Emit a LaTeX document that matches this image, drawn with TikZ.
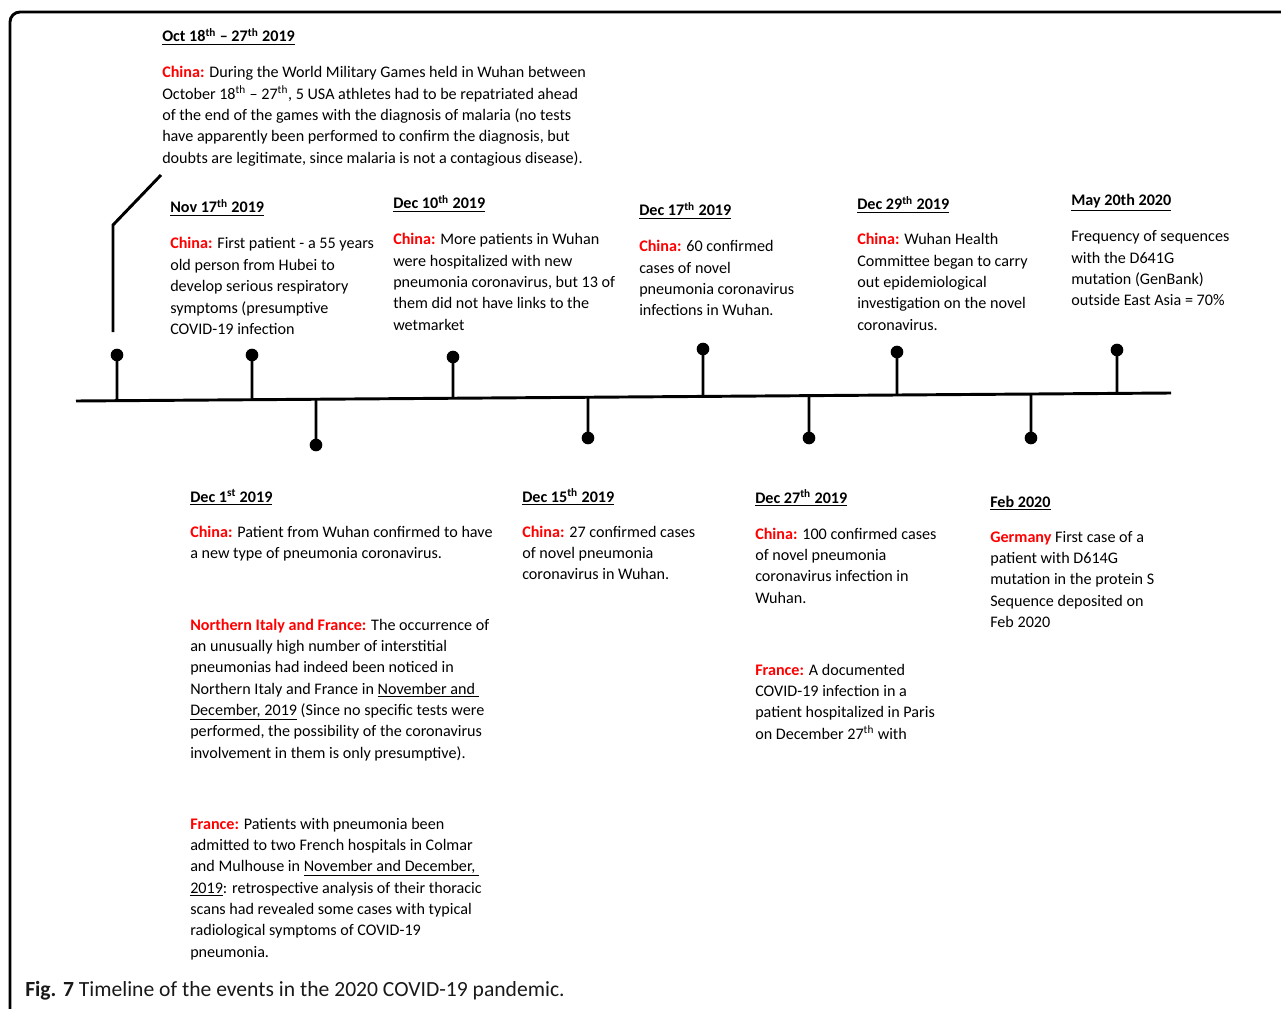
\documentclass[tikz,border=0pt]{standalone}
\usepackage{fontspec}
\setmainfont{Carlito}
\usetikzlibrary{calc}
\definecolor{tred}{RGB}{255,0,0}
\definecolor{ink}{RGB}{0,0,0}
\newcommand{\rd}[1]{\textcolor{tred}{\textbf{#1}}}
\newcommand{\hd}[1]{\underline{\textbf{#1}}}
\newcommand{\thsup}{\textsuperscript{th}}
\newcommand{\blk}[1]{\begin{tabular}[t]{@{}l@{}}#1\end{tabular}}
\begin{document}
\begin{tikzpicture}[x=0.75pt,y=-0.75pt,
  txt/.style={anchor=base west, inner sep=0pt, text=ink, font=\fontsize{12.1}{16}\selectfont},
  dot/.style={circle, fill=black, inner sep=0pt, minimum size=9.5pt},
  stem/.style={line width=2.2pt, black},
  axis/.style={line width=2.2pt, black},
  frame/.style={line width=2.2pt, black, rounded corners=7.5pt}]
\useasboundingbox (0,0) rectangle (1281,1009);
\clip (0,0) rectangle (1281,1009);
\fill[white] (0,0) rectangle (1281,1009);
% frame
\coordinate (f1) at (10,1020);
\coordinate (f2) at (10,12);
\coordinate (f3) at (1295,12);
\draw[frame] (f1) -- (f2) -- (f3);
% timeline
\coordinate (L) at (76,401);
\coordinate (R) at (1171,393);
\draw[axis] (L) -- (R);
% upper events
\foreach \n/\x/\y in {u1/117/355, u2/252/355, u3/453/357, u4/703/349, u5/897/352, u6/1117/350}{
  \node[dot] (\n) at (\x,\y) {};
  \coordinate (\n b) at ($(L)!{(\x-76)/1095}!(R)$);
  \draw[stem] (\n.center) -- (\n b);
}
% lower events
\foreach \n/\x/\y in {l1/316/445, l2/588/438, l3/809/438, l4/1031/438}{
  \node[dot] (\n) at (\x,\y) {};
  \coordinate (\n b) at ($(L)!{(\x-76)/1095}!(R)$);
  \draw[stem] (\n.center) -- (\n b);
}
% bent leader for Oct event
\coordinate (o1) at (113,332);
\coordinate (o2) at (113,225);
\coordinate (o3) at (161,175);
\draw[stem] (o1) -- (o2) -- (o3);
% texts
\node[txt] (octh) at (162,42) {\hd{Oct 18\thsup{} – 27\thsup{} 2019}};
\node[txt] (octp) at (162,78) {\blk{\rd{China:} During the World Military Games held in Wuhan between\\
October 18\thsup{} – 27\thsup, 5 USA athletes had to be repatriated ahead\\
of the end of the games with the diagnosis of malaria (no tests\\
have apparently been performed to confirm the diagnosis, but\\
doubts are legitimate, since malaria is not a contagious disease).}};
\node[txt] (novh) at (170,213) {\hd{Nov 17\thsup{} 2019}};
\node[txt] (novp) at (170,249) {\blk{\rd{China:} First patient - a 55 years\\
old person from Hubei to\\
develop serious respiratory\\
symptoms (presumptive\\
COVID-19 infection}};
\node[txt] (d10h) at (393,209) {\hd{Dec 10\thsup{} 2019}};
\node[txt] (d10p) at (393,245) {\blk{\rd{China:} More patients in Wuhan\\
were hospitalized with new\\
pneumonia coronavirus, but 13 of\\
them did not have links to the\\
wetmarket}};
\node[txt] (d17h) at (639,216) {\hd{Dec 17\thsup{} 2019}};
\node[txt] (d17p) at (639,252) {\blk{\rd{China:} 60 confirmed\\
cases of novel\\
pneumonia coronavirus\\
infections in Wuhan.}};
\node[txt] (d29h) at (857,210) {\hd{Dec 29\thsup{} 2019}};
\node[txt] (d29p) at (857,245) {\blk{\rd{China:} Wuhan Health\\
Committee began to carry\\
out epidemiological\\
investigation on the novel\\
coronavirus.}};
\node[txt] (mayh) at (1071,206) {\hd{May 20th 2020}};
\node[txt] (mayp) at (1071,242) {\blk{Frequency of sequences\\
with the D641G\\
mutation (GenBank)\\
outside East Asia = 70\%}};
\node[txt] (d1h) at (190,502) {\hd{Dec 1\textsuperscript{st} 2019}};
\node[txt] (d1p) at (190,537) {\blk{\rd{China:} Patient from Wuhan confirmed to have\\
a new type of pneumonia coronavirus.}};
\node[txt] (nip) at (190,630) {\blk{\rd{Northern Italy and France:} The occurrence of\\
an unusually high number of interstitial\\
pneumonias had indeed been noticed in\\
Northern Italy and France in \underline{November and }\\
\underline{December, 2019} (Since no specific tests were\\
performed, the possibility of the coronavirus\\
involvement in them is only presumptive).}};
\node[txt] (frp) at (190,829) {\blk{\rd{France:} Patients with pneumonia been\\
admitted to two French hospitals in Colmar\\
and Mulhouse in \underline{November and December, }\\
\underline{2019}: retrospective analysis of their thoracic\\
scans had revealed some cases with typical\\
radiological symptoms of COVID-19\\
pneumonia.}};
\node[txt] (d15h) at (522,502) {\hd{Dec 15\thsup{} 2019}};
\node[txt] (d15p) at (522,537) {\blk{\rd{China:} 27 confirmed cases\\
of novel pneumonia\\
coronavirus in Wuhan.}};
\node[txt] (d27h) at (755,503) {\hd{Dec 27\thsup{} 2019}};
\node[txt] (d27p) at (755,539) {\blk{\rd{China:} 100 confirmed cases\\
of novel pneumonia\\
coronavirus infection in\\
Wuhan.}};
\node[txt] (d27f) at (755,675) {\blk{\rd{France:} A documented\\
COVID-19 infection in a\\
patient hospitalized in Paris\\
on December 27\thsup{} with}};
\node[txt] (febh) at (990,507) {\hd{Feb 2020}};
\node[txt] (febp) at (990,542) {\blk{\rd{Germany} First case of a\\
patient with D614G\\
mutation in the protein S\\
Sequence deposited on\\
Feb 2020}};
\node[txt, font=\fontsize{16.2}{18}\selectfont, text={black!90}] (cap) at (25,996) {\textbf{Fig. 7} Timeline of the events in the 2020 COVID-19 pandemic.};
\end{tikzpicture}
\end{document}
